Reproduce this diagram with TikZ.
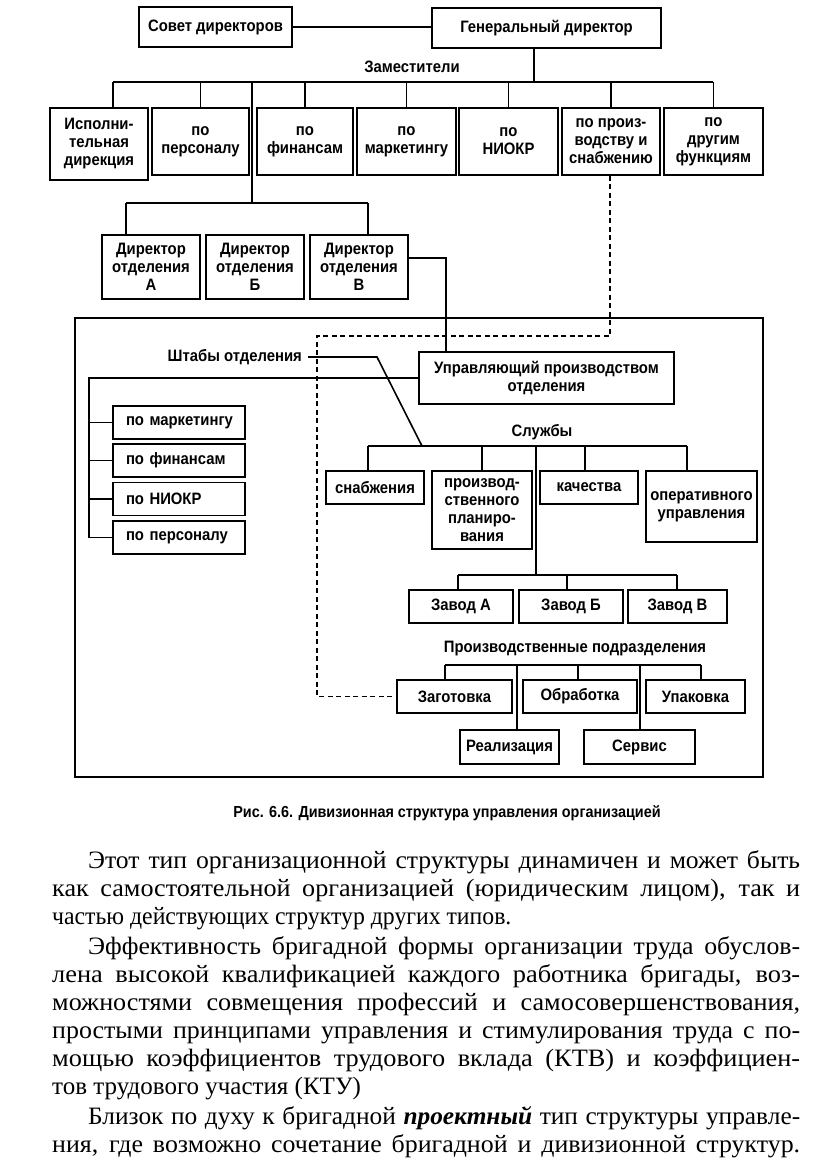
\documentclass[tikz,border=0pt]{standalone}
\usepackage{fontspec}
\usepackage{graphicx}
\setmainfont{Liberation Serif}
\newfontfamily\dfont[FakeStretch=0.9]{Liberation Sans}
\newcommand\dsize{\dfont\bfseries\fontsize{16.5}{18}\selectfont}
\newcommand\btext{\rmfamily\fontsize{25}{28}\selectfont}
\tikzset{
  ln/.style={line width=1.6pt},
  dotln/.style={line width=1.5pt, dash pattern=on 5pt off 3.5pt},
  bxs/.style={draw, line width=1.6pt, inner sep=0pt, align=center, font=\dsize},
  stf/.style={draw, line width=1.6pt, inner xsep=6pt, inner ysep=0pt, align=left, font=\dsize,
              text width=120pt, minimum height=33pt},
  lbl/.style={inner sep=0pt, font=\dsize},
  btx/.style={anchor=base west, inner sep=0pt, font=\btext},
}
\newcommand\bxn[6]{\node[bxs, minimum width={#3-#1}, minimum height={#4-#2}] (#5) at ({(#1+#3)/2},{(#2+#4)/2}) {#6};}
\newcommand\stl[1]{\hspace*{7pt}\rlap{#1}}
\newlength\jw
\newcommand\jfit[2]{%
  \settowidth\jw{#2}%
  \pgfmathsetmacro\jf{1+(#1/\jw-1)*0.5}%
  \pgfmathsetmacro\jin{#1/\jf}%
  \scalebox{\jf}[1]{\makebox[\jin pt][s]{#2}}}
\newcommand\jline[4]{\node[btx] (#1) at (#2) {\jfit{#3}{#4}};}
\begin{document}
\begin{tikzpicture}[x=1pt,y=-1pt]
\useasboundingbox[fill=white] (0,0) rectangle (817,1176);

% top level
\bxn{139}{7}{292}{47}{sov}{Совет директоров}
\bxn{432}{8}{661}{48}{gen}{Генеральный директор}
\draw[ln] (sov.east) -- (sov.east -| gen.west);
\coordinate (gbus) at (534,82);
\draw[ln] (gbus |- gen.south) -- (gbus);
\node[lbl] (zam) at (412,67) {Заместители};

% deputies
\bxn{50}{108}{148}{180}{d1}{Исполни-\\тельная\\дирекция}
\bxn{152}{108}{249}{175}{d2}{по\\персоналу}
\bxn{257}{108}{353}{175}{d3}{по\\финансам}
\bxn{357}{108}{456}{175}{d4}{по\\маркетингу}
\bxn{459}{108}{558}{175}{d5}{по\\НИОКР}
\bxn{562}{108}{660}{175}{d6}{по произ-\\водству и\\снабжению}
\bxn{664}{108}{763}{175}{d7}{по\\другим\\функциям}
\coordinate (bl) at (113,82);
\coordinate (br) at (713,82);
\draw[ln] (bl) -- (br);
\draw[ln] (bl) -- (bl |- d1.north);
\foreach \n in {d2,d3,d4,d5,d6,d7}{\draw[ln] (\n.north) -- (\n.north |- gbus);}

% division directors
\bxn{102}{235}{200}{299}{dA}{Директор\\отделения\\А}
\bxn{206}{235}{304}{299}{dB}{Директор\\отделения\\Б}
\bxn{310}{235}{408}{299}{dV}{Директор\\отделения\\В}
\coordinate (dv) at (252,82);
\coordinate (dbus) at (252,203);
\coordinate (dbl) at (126,203);
\coordinate (dbr) at (368,203);
\draw[ln] (dv) -- (dbus);
\draw[ln] (dbl) -- (dbr);
\draw[ln] (dbl) -- (dbl |- dA.north);
\draw[ln] (dbr) -- (dbr |- dV.north);

% division frame
\draw[ln] (75,318) rectangle (763,777);

\bxn{419}{352}{674}{404}{upr}{Управляющий производством\\отделения}
\coordinate (uv) at (446,258);
\draw[ln] (dV.east |- uv) -- (uv) -- (uv |- upr.north);

% staff
\node[lbl, anchor=east] (shtab) at (302,357) {Штабы отделения};
\node[stf] (st1) at (179,422.5) {\stl{по маркетингу}};
\node[stf] (st2) at (179,460.5) {\stl{по финансам}};
\node[stf] (st3) at (179,499) {\stl{по НИОКР}};
\node[stf] (st4) at (179,537.5) {\stl{по персоналу}};
\coordinate (s0) at (89,378);
\draw[ln] (upr.west) -- (upr.west -| s0) -- (s0 |- st4.west);
\foreach \n in {st1,st2,st3,st4}{\draw[ln] (\n.west -| s0) -- (\n.west);}

% services
\node[lbl] (sluzh) at (542,432) {Службы};
\bxn{326}{471}{424}{504}{sv1}{снабжения}
\bxn{432}{471}{532}{549}{sv2}{производ-\\ственного\\планиро-\\вания}
\bxn{540}{471}{638}{504}{sv3}{качества}
\bxn{646}{471}{757}{542}{sv4}{оперативного\\управления}
\coordinate (sbl) at (368,446);
\coordinate (sbr) at (687,446);
\coordinate (sbj) at (422,446);
\coordinate (sbm) at (536,446);
\coordinate (sb3) at (585,446);
\draw[ln] (sbl) -- (sbr);
\draw[ln] (sbl) -- (sbl |- sv1.north);
\draw[ln] (sv2.north) -- (sv2.north |- sbl);
\draw[ln] (sb3) -- (sb3 |- sv3.north);
\draw[ln] (sbr) -- (sbr |- sv4.north);
\draw[ln] ([xshift=6pt]shtab.east) -- (377,357) -- (sbj);

% plants
\bxn{409}{590}{513}{623}{zA}{Завод А}
\bxn{519}{590}{623}{623}{zB}{Завод Б}
\bxn{628}{590}{727}{623}{zV}{Завод В}
\coordinate (zbm) at (536,575);
\coordinate (zbl) at (458,575);
\coordinate (zbc) at (567,575);
\coordinate (zbr) at (677,575);
\draw[ln] (sbm) -- (zbm);
\draw[ln] (zbl) -- (zbr);
\draw[ln] (zbl) -- (zbl |- zA.north);
\draw[ln] (zbc) -- (zbc |- zB.north);
\draw[ln] (zbr) -- (zbr |- zV.north);

% production units
\node[lbl] (pp) at (575,649) {Производственные подразделения};
\bxn{397}{680}{512}{713}{zag}{Заготовка}
\bxn{523}{680}{637}{713}{obr}{Обработка}
\bxn{646}{680}{745}{713}{upk}{Упаковка}
\bxn{460}{730}{559}{764}{rea}{Реализация}
\bxn{584}{730}{695}{764}{ser}{Сервис}
\coordinate (pbl) at (445,665);
\coordinate (pbr) at (701,665);
\coordinate (pbc) at (578,665);
\coordinate (pr1) at (517,665);
\coordinate (pr2) at (640,665);
\draw[ln] (pbl) -- (pbr);
\draw[ln] (pbl) -- (pbl |- zag.north);
\draw[ln] (pbc) -- (pbc |- obr.north);
\draw[ln] (pbr) -- (pbr |- upk.north);
\draw[ln] (pr1) -- (pr1 |- rea.north);
\draw[ln] (pr2) -- (pr2 |- ser.north);

% dotted link
\coordinate (q1) at (610,336);
\coordinate (q2) at (317,336);
\draw[dotln] (q1 |- d6.south) -- (q1) -- (q2) -- (q2 |- zag.west) -- (zag.west);

% caption
\node[inner sep=0pt, font={\dfont\bfseries\fontsize{16}{18}\selectfont}] (cap) at (447,813) {Рис. 6.6. Дивизионная структура управления организацией};

% body text
\jline{t1}{88,868}{712}{Этот тип организационной структуры динамичен и может быть}
\jline{t2}{52,896}{748}{как самостоятельной организацией (юридическим лицом), так и}
\node[btx] (t3) at (52,924) {\scalebox{0.95}[1]{частью действующих структур других типов.}};
\jline{t4}{88,954}{712}{Эффективность бригадной формы организации труда обуслов-}
\jline{t5}{52,982}{748}{лена высокой квалификацией каждого работника бригады, воз-}
\jline{t6}{52,1010}{748}{можностями совмещения профессий и самосовершенствования,}
\jline{t7}{52,1038}{748}{простыми принципами управления и стимулирования труда с по-}
\jline{t8}{52,1066}{748}{мощью коэффициентов трудового вклада (КТВ) и коэффициен-}
\node[btx] (t9) at (52,1094) {тов трудового участия (КТУ)};
\jline{t10}{88,1124}{712}{Близок по духу к бригадной {\bfseries\itshape проектный} тип структуры управле-}
\jline{t11}{52,1152}{748}{ния, где возможно сочетание бригадной и дивизионной структур.}
\end{tikzpicture}
\end{document}
